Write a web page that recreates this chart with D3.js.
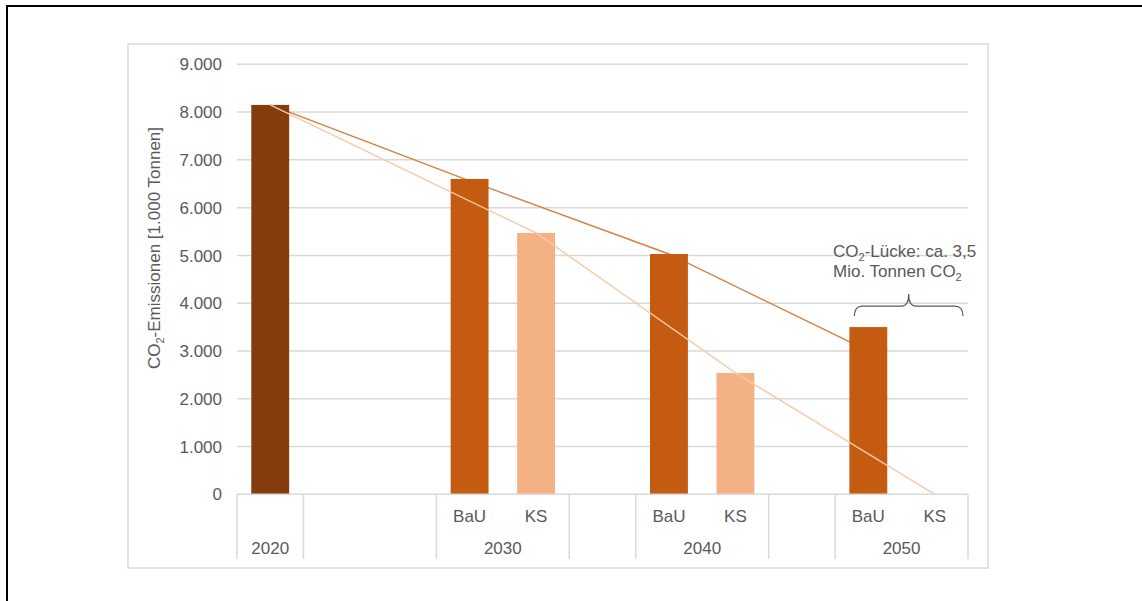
<!DOCTYPE html>
<html lang="de">
<head>
  <meta charset="utf8">
  <script type="text/javascript" src="https://cdn.jsdelivr.net/npm/d3@7"></script>
  <title>CO2-Emissionen</title>
  <style>
    body { margin: 0; background: #fff; }
    text { font-family: "Liberation Sans", Arial, sans-serif; fill: #595959; }
  </style>
</head>
<body>
  <div id="chart"></div>
<script type="text/javascript">

  // Daten
  var slotKeys   = ["2020", "gap1", "gap2", "2030 BaU", "2030 KS", "gap3", "2040 BaU", "2040 KS", "gap4", "2050 BaU", "2050 KS"];
  var slotLabels = ["", "", "", "BaU", "KS", "", "BaU", "KS", "", "BaU", "KS"];
  var slotGroups = ["2020", "", "", "2030", "2030", "", "2040", "2040", "", "2050", "2050"];
  var barValues  = [8150, null, null, 6600, 5470, null, 5030, 2540, null, 3500, 0];
  var yTicks     = [0, 1000, 2000, 3000, 4000, 5000, 6000, 7000, 8000, 9000];

  // Verbindungslinien (Kategorie, Wert)
  var bauLine = [["2020", 8150], ["2030 BaU", 6560], ["2040 BaU", 5030], ["2050 BaU", 3000]];
  var ksLine  = [["2020", 8150], ["2030 KS", 5470], ["2040 KS", 2540], ["2050 KS", 0]];

  var width = 1142, height = 601;
  var plot = { left: 237, right: 968, top: 64.3, bottom: 494.3 };

  var svg = d3.select("#chart").append("svg")
    .attr("width", width).attr("height", height);

  // äußerer Rahmen
  svg.append("rect").attr("x", 7).attr("y", 6)
    .attr("width", 1300).attr("height", 800)
    .attr("fill", "none").attr("stroke", "#000").attr("stroke-width", 2);

  // Diagrammrahmen
  svg.append("rect").attr("x", 128).attr("y", 44)
    .attr("width", 860).attr("height", 524)
    .attr("fill", "#fff").attr("stroke", "#d9d9d9").attr("stroke-width", 1.5);

  var x = d3.scaleBand().domain(slotKeys)
    .range([plot.left, plot.right])
    .paddingInner(0.43).paddingOuter(0.215);

  var y = d3.scaleLinear().domain([0, 9000]).range([plot.bottom, plot.top]);

  var de = d3.formatLocale({ decimal: ",", thousands: ".", grouping: [3], currency: ["", " €"] });
  var fmt = de.format(",d");

  var cx = function (k) { return x(k) + x.bandwidth() / 2; };

  // Gitternetz
  svg.append("g").selectAll("line")
    .data(yTicks.filter(function (d) { return d > 0; }))
    .enter().append("line")
    .attr("x1", plot.left).attr("x2", plot.right)
    .attr("y1", function (d) { return y(d); })
    .attr("y2", function (d) { return y(d); })
    .attr("stroke", "#d9d9d9").attr("stroke-width", 1.5);

  // Y-Achse Beschriftung
  svg.append("g").selectAll("text")
    .data(yTicks).enter().append("text")
    .attr("x", 222).attr("y", function (d) { return y(d); })
    .attr("dy", "0.36em")
    .attr("text-anchor", "end")
    .style("font-size", "17px")
    .text(function (d) { return fmt(d); });

  var title = svg.append("text")
    .attr("transform", "translate(160,248) rotate(-90)")
    .attr("text-anchor", "middle")
    .style("font-size", "17px");
  title.append("tspan").text("CO");
  title.append("tspan").attr("dy", 4).style("font-size", "11px").text("2");
  title.append("tspan").attr("dy", -4).text("-Emissionen [1.000 Tonnen]");

  var line = d3.line()
    .x(function (d) { return cx(d[0]); })
    .y(function (d) { return y(d[1]); });

  // BaU-Linie (hinter den Balken)
  svg.append("path").datum(bauLine)
    .attr("d", line).attr("fill", "none")
    .attr("stroke", "#d4803f").attr("stroke-width", 1.4);

  // Balken
  var barColor = function (i) {
    if (slotLabels[i] === "BaU") return "#c55a11";
    if (slotLabels[i] === "KS") return "#f4b183";
    return "#843c0c";
  };
  svg.append("g").selectAll("rect")
    .data(slotKeys.map(function (k, i) { return { key: k, value: barValues[i], i: i }; })
      .filter(function (d) { return d.value !== null; }))
    .enter().append("rect")
    .attr("x", function (d) { return x(d.key); })
    .attr("width", x.bandwidth())
    .attr("y", function (d) { return y(d.value); })
    .attr("height", function (d) { return y(0) - y(d.value); })
    .attr("fill", function (d) { return barColor(d.i); });

  // KS-Linie (vor den Balken)
  svg.append("path").datum(ksLine)
    .attr("d", line).attr("fill", "none")
    .attr("stroke", "#f8c9a5").attr("stroke-width", 1.4);

  // Kategorienachse
  var step = x.step();
  var slotLeft = function (i) { return plot.left + i * step; };
  var axis = svg.append("g").attr("stroke", "#d9d9d9").attr("stroke-width", 1.5);
  axis.append("line")
    .attr("x1", plot.left).attr("x2", plot.right)
    .attr("y1", y(0)).attr("y2", y(0));
  var bounds = [0];
  slotGroups.forEach(function (g, i) { if (i > 0 && g !== slotGroups[i - 1]) bounds.push(i); });
  bounds.push(slotKeys.length);
  axis.selectAll("line.sep").data(bounds).enter().append("line")
    .attr("class", "sep")
    .attr("x1", function (i) { return slotLeft(i); })
    .attr("x2", function (i) { return slotLeft(i); })
    .attr("y1", y(0)).attr("y2", 559);

  svg.append("g").selectAll("text")
    .data(slotKeys.map(function (k, i) { return { key: k, label: slotLabels[i] }; })
      .filter(function (d) { return d.label; }))
    .enter().append("text")
    .attr("x", function (d) { return cx(d.key); })
    .attr("y", 522.3)
    .attr("text-anchor", "middle")
    .style("font-size", "17px")
    .text(function (d) { return d.label; });

  var groupSpans = [];
  for (var b = 0; b < bounds.length - 1; b++) {
    var g = slotGroups[bounds[b]];
    if (g) groupSpans.push({ label: g, from: bounds[b], to: bounds[b + 1] });
  }
  svg.append("g").selectAll("text")
    .data(groupSpans).enter().append("text")
    .attr("x", function (d) { return (slotLeft(d.from) + slotLeft(d.to)) / 2; })
    .attr("y", 554.3)
    .attr("text-anchor", "middle")
    .style("font-size", "17px")
    .text(function (d) { return d.label; });

  // Anmerkung: CO2-Lücke
  var top2050 = y(barValues[9]);
  var bx1 = x("2050 BaU") + 5;
  var bx2 = slotLeft(11) - 5;
  var bm = (bx1 + bx2) / 2;
  var yMid = top2050 - 21, yEnd = top2050 - 11, yTip = top2050 - 33;
  var brace = d3.path();
  brace.moveTo(bx1, yEnd);
  brace.quadraticCurveTo(bx1, yMid, bx1 + 8, yMid);
  brace.lineTo(bm - 7, yMid);
  brace.quadraticCurveTo(bm, yMid, bm, yTip);
  brace.quadraticCurveTo(bm, yMid, bm + 7, yMid);
  brace.lineTo(bx2 - 8, yMid);
  brace.quadraticCurveTo(bx2, yMid, bx2, yEnd);
  svg.append("path").attr("d", brace.toString())
    .attr("fill", "none").attr("stroke", "#595959").attr("stroke-width", 1.2);

  var tx = slotLeft(9) - 2;
  var note1 = svg.append("text").attr("x", tx).attr("y", top2050 - 70.5).style("font-size", "17px");
  note1.append("tspan").text("CO");
  note1.append("tspan").attr("dy", 4).style("font-size", "11px").text("2");
  note1.append("tspan").attr("dy", -4).text("-Lücke: ca. 3,5");
  var note2 = svg.append("text").attr("x", tx).attr("y", top2050 - 49.7).style("font-size", "17px");
  note2.append("tspan").text("Mio. Tonnen CO");
  note2.append("tspan").attr("dy", 4).style("font-size", "11px").text("2");

</script>
</body>
</html>
